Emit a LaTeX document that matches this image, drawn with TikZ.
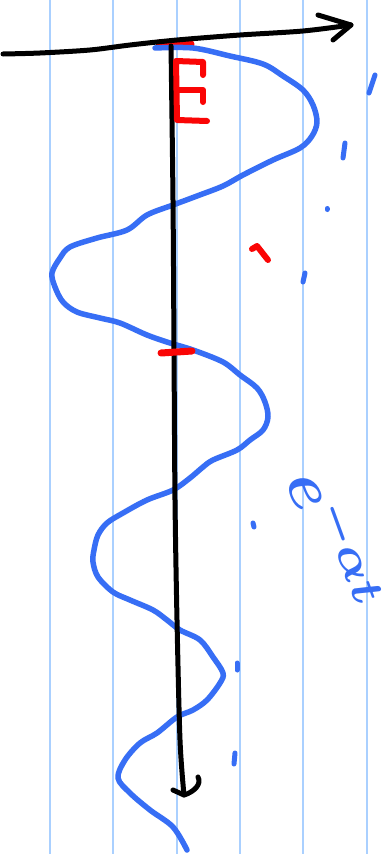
\documentclass[tikz,border=0pt]{standalone}
\usetikzlibrary{calc}
\definecolor{gridblue}{RGB}{170,208,255}
\definecolor{penblue}{RGB}{55,110,245}
\definecolor{penred}{RGB}{250,5,5}
\tikzset{
  gridline/.style={draw=gridblue,line width=1.6pt},
  axisline/.style={draw=black,line width=5pt,line cap=round,line join=round},
  wavestroke/.style={draw=penblue,line width=5.5pt,line cap=round,line join=round},
  bluedash/.style={draw=penblue,line width=5pt,line cap=round},
  redmark/.style={draw=penred,line width=6pt,line cap=round,line join=round},
}
\begin{document}
\begin{tikzpicture}[x=1pt,y=-1pt]
\fill[white] (0,0) rectangle (390,854);
\useasboundingbox (0,0) rectangle (390,854);
% notebook lines
\foreach \gx in {50,113,177,240,303,367}
  \draw[gridline] (\gx,0) -- (\gx,854);
% red blob at origin (under the wave)
\draw[redmark,line width=7pt] (159,43) -- (191,44);
% damped wave
\draw[wavestroke] plot[smooth,tension=0.55] coordinates {
(155,48) (193,48) (230,56) (263,64) (283,76) (303,90) (313,105) (317,122)
(312,136) (300,148) (273,160) (243,175) (223,186) (197,196) (173,205)
(147,215) (127,230) (97,238) (70,247) (60,258) (52,273) (55,287) (63,302)
(77,312) (100,318) (120,323) (147,335) (170,343) (193,350) (223,362)
(240,375) (257,388) (265,402) (268,417) (263,430) (250,440) (237,450)
(213,460) (203,467) (190,478) (173,490) (147,500) (123,513) (107,523)
(98,535) (94,550) (93,562) (98,577) (113,592) (130,600) (153,610)
(167,620) (180,630) (200,640) (213,657) (223,673) (220,683) (207,700)
(193,710) (177,717) (157,733) (140,743) (125,760) (118,778) (130,793)
(150,810) (173,827) (187,850)};
% axes
\coordinate (hstart) at (3,54);
\coordinate (htip) at (351,25);
\coordinate (vstart) at (171,46);
\coordinate (vtip) at (184,795);
\draw[axisline] plot[smooth,tension=0.5] coordinates {(hstart) (40,53) (90,50) (130,45) (177,40) (240,35) (303,31) (htip)};
\draw[axisline] (318,15) -- (htip) -- (333,40);
\draw[axisline] plot[smooth,tension=0.5] coordinates {(vstart) (173,200) (174,350) (175,500) (177,620) (180,740) (vtip)};
\draw[axisline] (173,790) -- (vtip) .. controls (194,792) and (202,784) .. (198,777);
% red marks
\draw[redmark] (203,75) -- (203,62) -- (176,61) -- (177,120) -- (207,121);
\draw[redmark] (178,90) -- (203,90) -- (203,102);
\draw[redmark,line width=7pt] (161,353) -- (192,351);
\draw[redmark] (252,249) -- (257,246) -- (268,260);
% blue dashes
\draw[bluedash] (375,75) -- (369,93);
\draw[bluedash] (345,143) -- (343,158);
\draw[bluedash] (327,208.5) -- (327,209.5);
\draw[bluedash] (305,273) -- (303,282);
\draw[bluedash] (253,523) -- (254,527);
\draw[bluedash] (237,663) -- (237,670);
\draw[bluedash] (235,753) -- (234,764);
% label
\node[text=penblue,rotate=-70,inner sep=0pt] (lbl) at (336,540) {\scalebox{6.5}{\boldmath$e^{-\alpha t}$}};
\end{tikzpicture}
\end{document}
